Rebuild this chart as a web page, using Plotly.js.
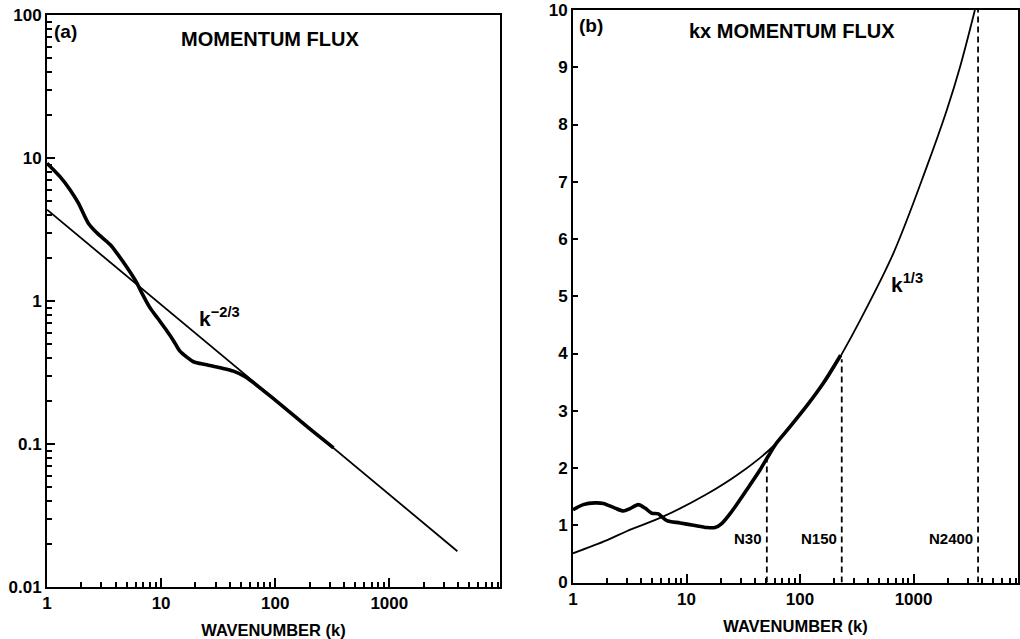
<!DOCTYPE html>
<html><head><meta charset="utf-8">
<script src="https://cdn.plot.ly/plotly-3.0.1.min.js"></script>
<style>html,body{margin:0;padding:0;background:#fff}#chart{width:1020px;height:639px}</style>
</head><body><div id="chart"></div>
<script>
// ---- Panel (a): momentum flux vs wavenumber (log-log) ----
const kFluxA = [1, 1.3, 1.59, 1.88, 2.3, 2.73, 3.57, 4.08, 5.17, 6.12, 6.77, 7.9, 9.3, 11.1, 12.8, 14.5, 16.8, 19.2, 25.1, 33, 43, 54.6, 100, 200, 324];
const fluxA  = [9.2, 7.4, 6.0, 4.85, 3.5, 3.0, 2.48, 2.17, 1.66, 1.34, 1.14, 0.91, 0.76, 0.627, 0.53, 0.45, 0.405, 0.376, 0.358, 0.341, 0.323, 0.295, 0.203, 0.128, 0.094];
const kRefA  = [1, 3950];
const refA   = [4.35, 0.0178];

// ---- Panel (b): k x momentum flux ----
const kFluxB = [1, 1.23, 1.56, 1.85, 2.34, 2.77, 3.18, 3.76, 4.31, 4.94, 5.65, 6.03, 6.7, 8.8, 11.5, 15.1, 17.8, 20.4, 25, 33.9, 44.5, 52.6, 62.3, 80, 114, 160, 228];
const fluxB  = [1.27, 1.36, 1.39, 1.38, 1.30, 1.25, 1.29, 1.36, 1.30, 1.21, 1.20, 1.15, 1.08, 1.04, 1.00, 0.96, 0.96, 1.03, 1.24, 1.62, 1.97, 2.21, 2.44, 2.70, 3.08, 3.48, 3.97];
const kRefB  = [1, 2, 3, 6.2, 15, 30, 58, 114, 172, 233, 338, 664, 1306, 1960, 2570, 3470];
const refB   = [0.51, 0.74, 0.90, 1.15, 1.54, 1.92, 2.38, 3.08, 3.55, 3.99, 4.58, 5.75, 7.26, 8.25, 9.01, 10.0];

// truncation markers
const truncLabels = ['N30', 'N150', 'N2400'];
const truncK      = [51, 233, 3700];
const truncTop    = [2.2, 3.9, 10];

// tick labels
const xTickVals   = [1, 10, 100, 1000];
const xTickText   = ['1', '10', '100', '1000'];
const yTickValsA  = [0.01, 0.1, 1, 10, 100];
const yTickTextA  = ['0.01', '0.1', '1', '10', '100'];
const yTickValsB  = [0, 1, 2, 3, 4, 5, 6, 7, 8, 9, 10];
const yTickTextB  = ['0', '1', '2', '3', '4', '5', '6', '7', '8', '9', '10'];

function minorLog(lo, hi) {
  const out = [];
  for (let d = lo; d < hi; d++) for (let m = 2; m <= 9; m++) out.push(m * Math.pow(10, d));
  return out;
}

const FONT = 'Liberation Sans, Arial, Helvetica, sans-serif';
const W = 1020, H = 639;

const dashX = [], dashY = [];
truncK.forEach((k, i) => { dashX.push(k, k, null); dashY.push(0, truncTop[i], null); });

const traces = [
  {x: kRefA, y: refA, xaxis: 'x', yaxis: 'y', mode: 'lines', line: {color: '#000', width: 1.8}, hoverinfo: 'skip'},
  {x: kFluxA, y: fluxA, xaxis: 'x', yaxis: 'y', mode: 'lines', line: {color: '#000', width: 3.6, shape: 'spline', smoothing: 0.8}},
  {x: kRefB, y: refB, xaxis: 'x2', yaxis: 'y2', mode: 'lines', line: {color: '#000', width: 1.8, shape: 'spline', smoothing: 1}},
  {x: kFluxB, y: fluxB, xaxis: 'x2', yaxis: 'y2', mode: 'lines', line: {color: '#000', width: 3.6, shape: 'spline', smoothing: 0.8}},
  {x: dashX, y: dashY, xaxis: 'x2', yaxis: 'y2', mode: 'lines', line: {color: '#000', width: 1.8, dash: '6px,4px'}}
];

const tickFont = {family: FONT, size: 17, color: '#000', weight: 'bold'};
function xAxis(domain, range, anchor) {
  return {
    type: 'log', range: range, domain: domain, anchor: anchor,
    tickmode: 'array', tickvals: xTickVals, ticktext: xTickText,
    ticks: 'inside', ticklen: 9, tickwidth: 2, tickcolor: '#000',
    minor: {ticks: 'inside', ticklen: 5, tickwidth: 2, tickcolor: '#000', tickmode: 'array', tickvals: minorLog(0, 4), showgrid: false},
    showline: true, mirror: true, linecolor: '#000', linewidth: 2,
    showgrid: false, zeroline: false, tickfont: tickFont,
    title: {text: 'WAVENUMBER (k)', font: {family: FONT, size: 16.5, color: '#000', weight: 'bold'}, standoff: 13}
  };
}

const layout = {
  width: W, height: H, margin: {l: 0, r: 0, t: 0, b: 0},
  paper_bgcolor: '#fff', plot_bgcolor: '#fff', showlegend: false,
  font: {family: FONT, color: '#000'},
  xaxis: xAxis([47 / W, 500 / W], [0, 3.97], 'y'),
  yaxis: {
    type: 'log', range: [-2, 2], domain: [1 - 587 / H, 1 - 15 / H], anchor: 'x',
    tickmode: 'array', tickvals: yTickValsA, ticktext: yTickTextA,
    ticks: 'inside', ticklen: 8, tickwidth: 2, tickcolor: '#000',
    minor: {ticks: 'inside', ticklen: 5, tickwidth: 2, tickcolor: '#000', tickmode: 'array', tickvals: minorLog(-2, 2), showgrid: false},
    showline: true, mirror: true, linecolor: '#000', linewidth: 2,
    showgrid: false, zeroline: false, tickfont: tickFont
  },
  xaxis2: xAxis([573 / W, 1018 / W], [0, 3.92], 'y2'),
  yaxis2: {
    range: [0, 10], domain: [1 - 582.5 / H, 1 - 10 / H], anchor: 'x2',
    tickmode: 'array', tickvals: yTickValsB, ticktext: yTickTextB,
    ticks: 'inside', ticklen: 5, tickwidth: 2, tickcolor: '#000',
    showline: true, mirror: true, linecolor: '#000', linewidth: 2,
    showgrid: false, zeroline: false, tickfont: tickFont
  },
  annotations: [
    {xref: 'paper', yref: 'paper', x: 52 / W, y: 1 - 31 / H, xanchor: 'left', yanchor: 'middle', showarrow: false,
     text: '(a)', font: {family: FONT, size: 19, color: '#000', weight: 'bold'}},
    {xref: 'paper', yref: 'paper', x: 270 / W, y: 1 - 39 / H, xanchor: 'center', yanchor: 'middle', showarrow: false,
     text: 'MOMENTUM FLUX', font: {family: FONT, size: 20, color: '#000', weight: 'bold'}},
    {xref: 'paper', yref: 'paper', x: 577 / W, y: 1 - 25 / H, xanchor: 'left', yanchor: 'middle', showarrow: false,
     text: '(b)', font: {family: FONT, size: 19, color: '#000', weight: 'bold'}},
    {xref: 'paper', yref: 'paper', x: 792 / W, y: 1 - 31 / H, xanchor: 'center', yanchor: 'middle', showarrow: false,
     text: 'kx MOMENTUM FLUX', font: {family: FONT, size: 20, color: '#000', weight: 'bold'}},
    {xref: 'paper', yref: 'paper', x: 197 / W, y: 1 - 317 / H, xanchor: 'left', yanchor: 'middle', showarrow: false,
     text: 'k<sup>−2/3</sup>', font: {family: FONT, size: 21, color: '#000', weight: 'bold'}},
    {xref: 'paper', yref: 'paper', x: 889 / W, y: 1 - 283 / H, xanchor: 'left', yanchor: 'middle', showarrow: false,
     text: 'k<sup>1/3</sup>', font: {family: FONT, size: 21, color: '#000', weight: 'bold'}}
  ]
};

truncLabels.forEach((lab, i) => {
  layout.annotations.push({
    xref: 'x2', yref: 'y2', x: Math.log10(truncK[i]), y: 0.76, xanchor: 'right', yanchor: 'middle',
    xshift: -3, showarrow: false, text: lab,
    font: {family: FONT, size: 15, color: '#000', weight: 'bold'}
  });
});

Plotly.newPlot('chart', traces, layout, {displayModeBar: false, staticPlot: true});
</script></body></html>
